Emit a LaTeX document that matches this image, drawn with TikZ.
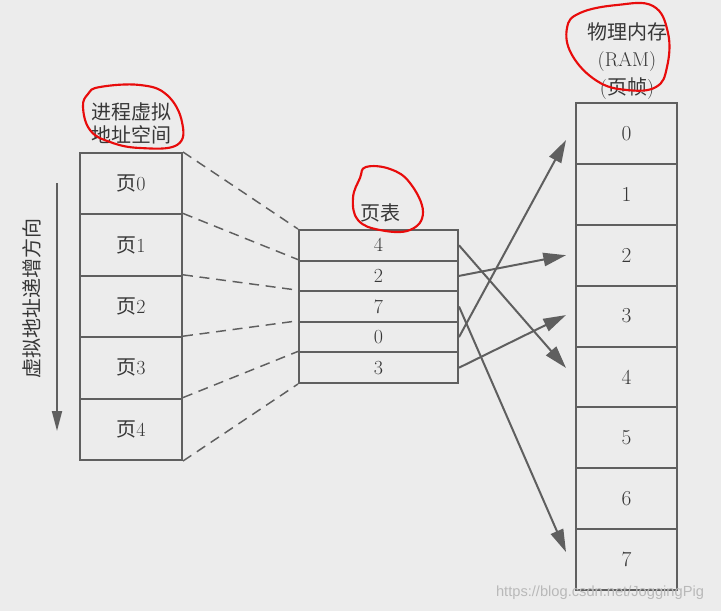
\documentclass[tikz,border=0pt]{standalone}
\usepackage{fontspec}
\newfontfamily\cjk{Noto Sans CJK SC}
\newfontfamily\wmfont{Liberation Sans}
\usetikzlibrary{arrows.meta,calc}
\definecolor{linegray}{RGB}{95,95,95}
\definecolor{textgray}{RGB}{55,55,55}
\definecolor{bggray}{RGB}{236,236,236}
\definecolor{penred}{RGB}{232,12,12}
\begin{document}
\begin{tikzpicture}[x=0.75pt,y=-0.75pt,
  cellbase/.style={draw=linegray, line width=1.5pt, inner sep=0pt, text=textgray, font=\fontsize{15}{17}\selectfont},
  lcell/.style={cellbase, minimum width=76.5pt, minimum height=46.05pt},
  pcell/.style={cellbase, minimum width=119.25pt, minimum height=22.95pt},
  rcell/.style={cellbase, minimum width=75.75pt, minimum height=45.66pt, font=\fontsize{16}{18}\selectfont},
  lbl/.style={inner sep=0pt, text=textgray, align=center},
  dashline/.style={draw=linegray, line width=1.1pt, dash pattern=on 7.5pt off 5pt},
  maparrow/.style={draw=linegray, line width=1.5pt, -{Triangle[length=17pt,width=10pt]}},
  redpen/.style={draw=penred, line width=1.6pt, line cap=round}
]
\fill[bggray] (0,0) rectangle (721,611);
\useasboundingbox (0,0) rectangle (721,611);

% virtual address space
\foreach \i/\y in {0/183.7,1/245.1,2/306.5,3/367.9,4/429.3}
  \node[lcell] (l\i) at (131,\y) {{\cjk 页}\i};
\node[lbl, font=\cjk\fontsize{15}{17.5}\selectfont] (vlabel) at (131,123.5) {进程虚拟\\地址空间};

% direction arrow
\coordinate (atop) at (57,183);
\coordinate (abot) at (57,431);
\draw[draw=linegray, line width=1.4pt, -{Triangle[length=15pt,width=7.5pt]}] (atop) -- (abot);
\node[lbl, rotate=90, font=\cjk\fontsize{15}{17}\selectfont] (dir) at (32,298) {虚拟地址递增方向};

% page table
\foreach \i/\y/\v in {0/245.3/4,1/275.9/2,2/306.5/7,3/337.1/0,4/367.7/3}
  \node[pcell] (p\i) at (378.5,\y) {\v};
\node[lbl, font=\cjk\fontsize{15}{17}\selectfont] (ptlabel) at (380,213) {页表};

% RAM
\foreach \i/\y in {0/133.44,1/194.31,2/255.19,3/316.06,4/376.94,5/437.81,6/498.69,7/559.56}
  \node[rcell] (r\i) at (626.5,\y) {\i};
\node[lbl, font=\fontsize{15}{20.6}\selectfont] (ramlabel) at (627,61) {{\cjk 物理内存}\\(RAM)\\({\cjk 页帧})};

% dashed lines
\foreach \i in {0,...,4}
  \draw[dashline] (l\i.north east) -- (p\i.north west);
\draw[dashline] (l4.south east) -- (p4.south west);

% mapping arrows
\draw[maparrow] (p0.east) -- ($(r4.west)+(-9,-9)$);
\draw[maparrow] (p1.east) -- ($(r2.west)+(-9,0)$);
\draw[maparrow] (p2.east) -- ($(r7.west)+(-9,-7.5)$);
\draw[maparrow] (p3.east) -- ($(r0.west)+(-9,6.6)$);
\draw[maparrow] (p4.east) -- ($(r3.west)+(-9,-1)$);

% red hand-drawn marks
\draw[redpen] plot[smooth cycle, tension=0.7] coordinates {(100,87) (140,85) (167,95) (182,122) (177,145) (140,148) (110,142) (90,130) (83,107) (88,94)};
\draw[redpen] plot[smooth cycle, tension=0.7] coordinates {(366,167) (390,169) (410,183) (423,212) (410,230) (380,230) (358,220) (353,198) (360,178)};
\draw[redpen] plot[smooth cycle, tension=0.7] coordinates {(580,13) (617,5) (653,6) (668,33) (667,67) (656,87) (627,90) (597,81) (572,55) (567,28)};

% watermark
\node[lbl, font=\wmfont\fontsize{11}{13}\selectfont, text=gray!55] (wm) at (600,593) {https://blog.csdn.net/JoggingPig};
\end{tikzpicture}
\end{document}
